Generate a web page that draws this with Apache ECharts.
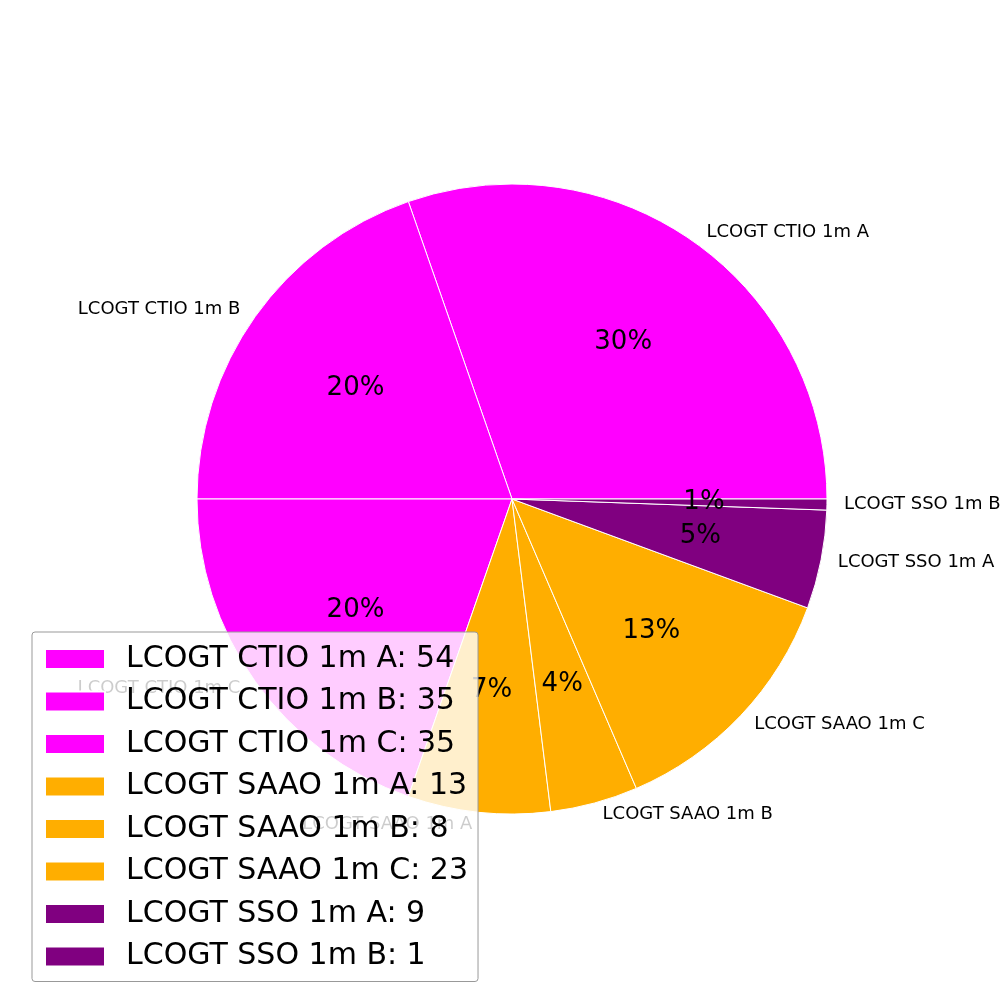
<!DOCTYPE html>
<html><head><meta charset="utf-8">
<script src="https://cdn.jsdelivr.net/npm/echarts@6/dist/echarts.min.js"></script>
<style>html,body{margin:0;background:#fff}#c{width:1000px;height:1000px}</style>
</head><body><div id="c"></div>
<script>
const categories = ["LCOGT CTIO 1m A","LCOGT CTIO 1m B","LCOGT CTIO 1m C","LCOGT SAAO 1m A","LCOGT SAAO 1m B","LCOGT SAAO 1m C","LCOGT SSO 1m A","LCOGT SSO 1m B"];
const values = [54,35,35,13,8,23,9,1];
const colors = ["#ff00ff","#ff00ff","#ff00ff","#ffae00","#ffae00","#ffae00","#800080","#800080"];
const total = values.reduce((a,b)=>a+b,0);
const data = categories.map((n,i)=>({name:n,value:values[i],itemStyle:{color:colors[i]}}));
const chart = echarts.init(document.getElementById('c'));
chart.setOption({
  animation:false,
  legend:{orient:'vertical',left:32,top:632,
    backgroundColor:'rgba(255,255,255,0.8)',borderColor:'#999',borderWidth:1,borderRadius:3,
    padding:[12,10,10,12],itemWidth:60,itemHeight:20,itemGap:12.5,
    textStyle:{fontSize:30,color:'#000',fontFamily:'DejaVu Sans',padding:[0,0,0,16]},
    icon:'rect',data:categories,
    formatter:n=>n+': '+values[categories.indexOf(n)]},
  series:[
    {type:'pie',center:[512,499],radius:[0,315],startAngle:0,clockwise:false,
     itemStyle:{borderColor:'#fff',borderWidth:1},
     label:{show:true,position:'outside',fontSize:18,color:'#000',fontFamily:'DejaVu Sans',overflow:'none'},
     labelLine:{show:false,length:12,length2:0},
     emphasis:{disabled:true},data:data},
    {type:'pie',center:[512,499],radius:[63,315],startAngle:0,clockwise:false,
     itemStyle:{color:'rgba(0,0,0,0)'},silent:true,
     label:{show:true,position:'inside',fontSize:26,color:'#000',fontFamily:'DejaVu Sans',
       formatter:p=>Math.round(p.value/total*100)+'%'},
     emphasis:{disabled:true},
     data:categories.map((n,i)=>({name:n,value:values[i]}))}
  ]
});
</script></body></html>
